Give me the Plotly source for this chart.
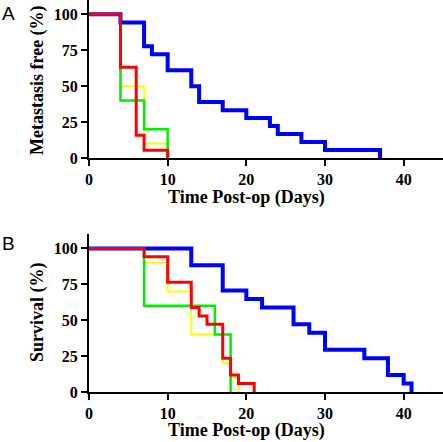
import plotly.graph_objects as go

# Panel A: metastasis free (%)
a_blue_t = [0, 4, 7, 8, 10, 13, 14, 17, 20, 23, 24, 27, 30, 37]
a_blue_v = [100, 94.4, 77.8, 72.2, 61.1, 50, 38.9, 33.3, 27.8, 22.2, 16.7, 11.1, 5.6, 0]
a_red_t = [0, 4, 6, 7, 10]
a_red_v = [100, 63.2, 15.8, 5.3, 0]
a_yellow_t = [0, 4, 7, 10]
a_yellow_v = [100, 50, 10, 0]
a_green_t = [0, 4, 7, 10]
a_green_v = [100, 40, 20, 0]

# Panel B: survival (%)
b_blue_t = [0, 13, 17, 20, 22, 26, 28, 30, 35, 38, 40, 41]
b_blue_v = [100, 88.2, 70.6, 64.7, 58.8, 47.1, 41.2, 29.4, 23.5, 11.8, 5.9, 0]
b_red_t = [0, 7, 10, 13, 14, 15, 17, 18, 19, 21]
b_red_v = [100, 94.1, 76.5, 58.8, 52.9, 47.1, 23.5, 11.8, 5.9, 0]
b_yellow_t = [0, 7, 10, 13, 17, 18, 19]
b_yellow_v = [100, 90, 70, 40, 20, 10, 0]
b_green_t = [0, 7, 16, 18]
b_green_v = [100, 60, 40, 0]

x_ticks = [0, 10, 20, 30, 40]
y_ticks = [0, 25, 50, 75, 100]

YELLOW = "#FFFF00"
GREEN = "#00EE00"
BLUE = "#0000FF"
RED = "#FF0000"

fig = go.Figure()

def add(t, v, color, width, xa, ya):
    fig.add_trace(go.Scatter(x=t, y=v, mode="lines", line=dict(shape="hv", color=color, width=width),
                             xaxis=xa, yaxis=ya, showlegend=False, hoverinfo="skip"))

for xa, ya, data in [
    ("x", "y", [(a_yellow_t, a_yellow_v, YELLOW, 2), (a_green_t, a_green_v, GREEN, 2.5),
                (a_blue_t, a_blue_v, BLUE, 4), (a_red_t, a_red_v, RED, 3)]),
    ("x2", "y2", [(b_yellow_t, b_yellow_v, YELLOW, 2), (b_green_t, b_green_v, GREEN, 2.5),
                  (b_blue_t, b_blue_v, BLUE, 4), (b_red_t, b_red_v, RED, 3)]),
]:
    for t, v, c, w in data:
        add(t, v, c, w, xa, ya)

serif = "Liberation Serif"
tickfont = dict(family=serif, size=16, color="black", weight="bold")
titlefont = dict(family=serif, size=18, color="black", weight="bold")

axis_common = dict(showline=True, linecolor="black", linewidth=2, ticks="outside", ticklen=6,
                   tickwidth=2, tickcolor="black", showgrid=False, zeroline=False, tickfont=tickfont,
                   automargin=False)

fig.update_layout(
    width=443, height=442,
    margin=dict(l=89, r=0, t=0, b=50),
    plot_bgcolor="white", paper_bgcolor="white",
    xaxis=dict(domain=[0, 1], range=[0, 45], tickvals=x_ticks, anchor="y", **axis_common),
    yaxis=dict(domain=[0.597, 1], range=[0, 110], tickvals=y_ticks, anchor="x", **axis_common),
    xaxis2=dict(domain=[0, 1], range=[0, 45], tickvals=x_ticks, anchor="y2", **axis_common),
    yaxis2=dict(domain=[0, 0.403], range=[0, 110], tickvals=y_ticks, anchor="x2", **axis_common),
)

PW, PH = 354, 392  # plot area size in px

def ann(text, px, py, angle=0, font=titlefont):
    fig.add_annotation(text=text, x=(px - 89) / PW, y=(PH - py) / PH, xref="paper", yref="paper",
                       xanchor="center", yanchor="middle", showarrow=False, textangle=angle, font=font)

ann("Time Post-op (Days)", 246, 197)
ann("Time Post-op (Days)", 246, 430)
ann("Metastasis free (%)", 37, 80, angle=-90)
ann("Survival (%)", 37, 312, angle=-90)

panel_font = dict(family="Liberation Sans", size=19, color="black")
ann("A", 8, 13, font=panel_font)
ann("B", 8, 243, font=panel_font)

fig.write_html("out.html", config={"displayModeBar": False},
               post_script="document.body.style.margin='0';document.body.style.overflow='hidden';")
